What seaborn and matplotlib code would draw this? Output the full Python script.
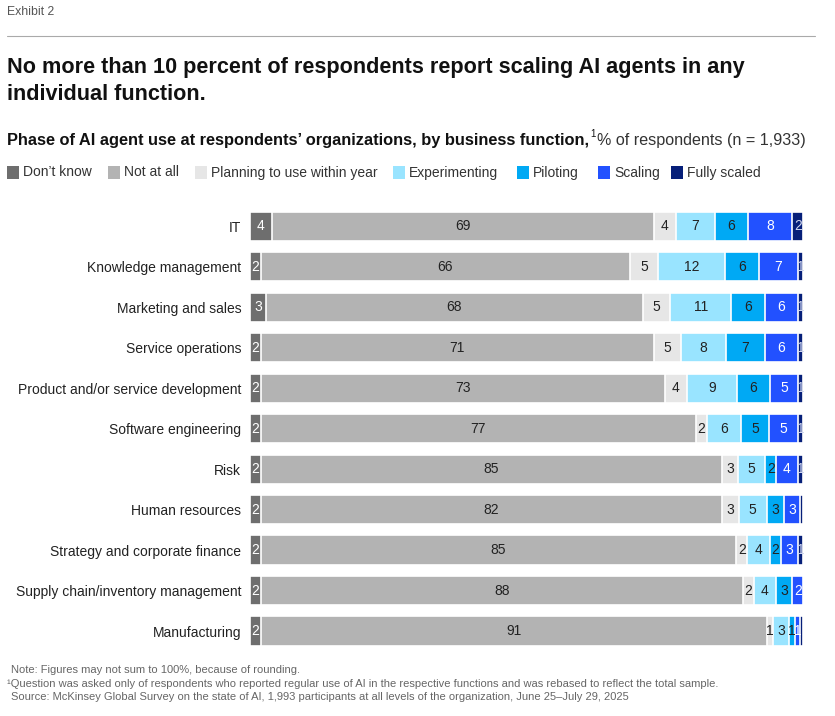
import numpy as np
import pandas as pd
import seaborn as sns
import matplotlib
matplotlib.use("Agg")
import matplotlib.pyplot as plt
from matplotlib.patches import Rectangle

categories = ["IT", "Knowledge management", "Marketing and sales", "Service operations",
              "Product and/or service development", "Software engineering", "Risk",
              "Human resources", "Strategy and corporate finance",
              "Supply chain/inventory management", "Manufacturing"]
series_names = ["Don’t know", "Not at all", "Planning to use within year", "Experimenting",
                "Piloting", "Scaling", "Fully scaled"]
dont_know = [4, 2, 3, 2, 2, 2, 2, 2, 2, 2, 2]
not_at_all = [69, 66, 68, 71, 73, 77, 85, 82, 85, 88, 91]
planning = [4, 5, 5, 5, 4, 2, 3, 3, 2, 2, 1]
experimenting = [7, 12, 11, 8, 9, 6, 5, 5, 4, 4, 3]
piloting = [6, 6, 6, 7, 6, 5, 2, 3, 2, 3, 1]
scaling = [8, 7, 6, 6, 5, 5, 4, 3, 3, 2, 1]
fully_scaled = [2, 1, 1, 1, 1, 1, 1, 0.5, 1, 0, 0.5]

colors = ["#6e6e6e", "#b3b3b3", "#e6e6e6", "#99e4ff", "#00a9f4", "#2251ff", "#061f79"]
label_colors = ["white", "#222222", "#222222", "#222222", "#222222", "white", "#cfd6f0"]

sns.set_theme(style="white")
plt.rcParams["font.family"] = ["Liberation Sans", "DejaVu Sans"]

data = np.array([dont_know, not_at_all, planning, experimenting, piloting, scaling, fully_scaled], dtype=float)
shares = data / data.sum(axis=0) * 100
cums = np.cumsum(shares, axis=0)
bar_h = 0.72

fig = plt.figure(figsize=(8.35, 7.16), dpi=100)
ax = fig.add_axes([0.299, 0.0904, 0.663, 0.622])

for k in range(len(series_names) - 1, -1, -1):
    df = pd.DataFrame({"category": categories, "value": cums[k]})
    sns.barplot(data=df, x="value", y="category", orient="h", color=colors[k],
                edgecolor="white", linewidth=1.2, width=bar_h, saturation=1, ax=ax)

for k in range(len(series_names)):
    starts = cums[k] - shares[k]
    for i in range(len(categories)):
        v = data[k][i]
        if v >= 1:
            t = ax.text(starts[i] + shares[k][i] / 2, i, f"{int(v)}", ha="center", va="center",
                        fontsize=10, color=label_colors[k])
            clip = Rectangle((starts[i], i - bar_h / 2), shares[k][i], bar_h,
                             transform=ax.transData, facecolor="none", edgecolor="none")
            t.set_clip_path(clip)

ax.set_xlim(0, 100)
ax.set_ylim(10.5, -0.5)
ax.set_xlabel("")
ax.set_ylabel("")
ax.set_xticks([])
ax.tick_params(axis="y", length=0, pad=6, labelsize=10, labelcolor="#222222")
for s in ax.spines.values():
    s.set_visible(False)

W, H = 835, 716
def fx(px):
    return px / W
def fy(py):
    return 1 - py / H

fig.text(fx(7), fy(12), "Exhibit 2", fontsize=8.8, color="#555555", va="center", ha="left")
fig.add_artist(plt.Line2D([fx(7), fx(815)], [fy(36), fy(36)], color="#aaaaaa", linewidth=0.8))
fig.text(fx(7), fy(67), "No more than 10 percent of respondents report scaling AI agents in any",
         fontsize=15.6, fontweight="bold", color="#111111", va="center", ha="left")
fig.text(fx(7), fy(95), "individual function.",
         fontsize=15.6, fontweight="bold", color="#111111", va="center", ha="left")

t1 = fig.text(fx(7), fy(140), "Phase of AI agent use at respondents’ organizations, by business function,",
              fontsize=11.8, fontweight="bold", color="#111111", va="center", ha="left")
fig.canvas.draw()
r = fig.canvas.get_renderer()
bb = t1.get_window_extent(r)
x1 = bb.x1 / W
t2 = fig.text(x1 + fx(1), fy(134), "1", fontsize=7, color="#111111", va="center", ha="left")
bb2 = t2.get_window_extent(r)
fig.text(bb2.x1 / W + fx(2), fy(140), "% of respondents (n = 1,933)", fontsize=11.6,
         color="#333333", va="center", ha="left")

legend_x = [7, 108, 195, 393, 517, 598, 671]
for k, name in enumerate(series_names):
    fig.add_artist(Rectangle((fx(legend_x[k]), fy(179)), fx(12), 13 / H, facecolor=colors[k],
                             edgecolor="none", transform=fig.transFigure))
    fig.text(fx(legend_x[k] + 16), fy(172.5), name, fontsize=10, color="#333333",
             va="center", ha="left")

notes = ["Note: Figures may not sum to 100%, because of rounding.",
         "¹Question was asked only of respondents who reported regular use of AI in the respective functions and was rebased to reflect the total sample.",
         "Source: McKinsey Global Survey on the state of AI, 1,993 participants at all levels of the organization, June 25–July 29, 2025"]
note_x = [11, 7, 11]
note_y = [670, 684, 697]
for s, xx, yy in zip(notes, note_x, note_y):
    fig.text(fx(xx), fy(yy), s, fontsize=8, color="#666666", va="center", ha="left")

fig.savefig("out.png", dpi=100)
